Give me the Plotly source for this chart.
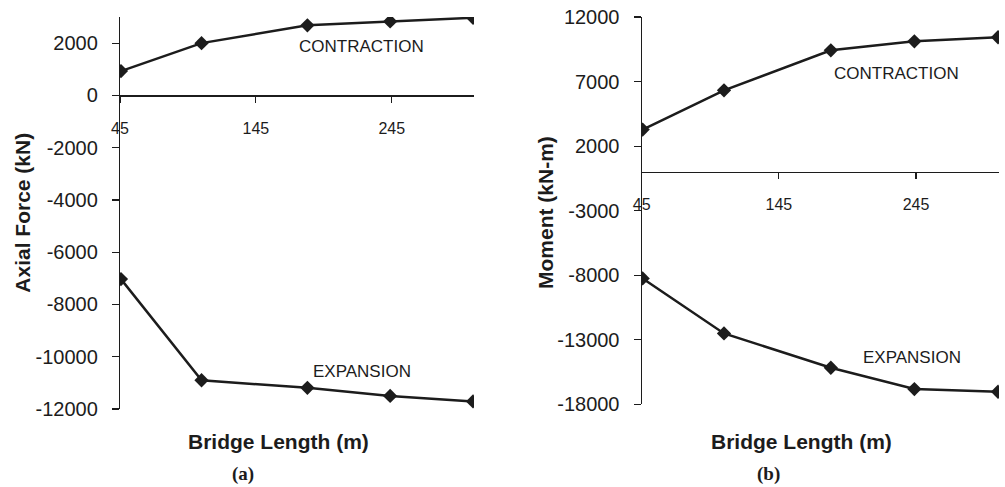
import plotly.graph_objects as go

# Data
bridge_length = [45.7, 105, 182.9, 243.8, 304.8]
axial_contraction = [930, 2000, 2680, 2830, 2970]
axial_expansion = [-7030, -10900, -11190, -11500, -11710]
moment_contraction = [3280, 6320, 9420, 10120, 10430]
moment_expansion = [-8250, -12510, -15170, -16820, -17030]

x_ticks = [45, 145, 245]
axial_ticks = [2000, 0, -2000, -4000, -6000, -8000, -10000, -12000]
moment_ticks = [12000, 7000, 2000, -3000, -8000, -13000, -18000]

FONT = "Liberation Sans, Arial, sans-serif"
INK = "#1c1c1c"

W, H = 1005, 487
L, R, T, B = 120, 6, 17, 78
PW, PH = W - L - R, H - T - B

def px(x):  # page pixel -> paper x
    return (x - L) / PW

def py(y):  # page pixel -> paper y
    return (H - B - y) / PH

fig = go.Figure()

line_style = dict(color=INK, width=2.5)
marker_style = dict(symbol="diamond", size=11, color=INK)

for ys, xa, ya in [(axial_contraction, "x", "y"), (axial_expansion, "x", "y"),
                   (moment_contraction, "x2", "y2"), (moment_expansion, "x2", "y2")]:
    fig.add_trace(go.Scatter(x=bridge_length, y=ys, mode="lines+markers",
                             line=line_style, marker=marker_style,
                             xaxis=xa, yaxis=ya, showlegend=False, hoverinfo="skip"))

b_bottom = py(404.3)

xcommon = dict(range=[45, 305.5], tickvals=x_ticks, ticktext=[str(v) for v in x_ticks],
               ticks="outside", ticklen=6,
               tickcolor=INK, tickwidth=1.2, showline=True, linecolor=INK, linewidth=1.2,
               showgrid=False, zeroline=False, anchor="free", automargin=False,
               tickfont=dict(family=FONT, size=16, color=INK), ticklabelstandoff=12,
               ticklabeloverflow="allow")
ycommon = dict(ticks="outside", ticklen=7, tickcolor=INK, tickwidth=1.2,
               showline=True, linecolor=INK, linewidth=1.2, showgrid=False,
               zeroline=False, tickfont=dict(family=FONT, size=20, color=INK),
               ticklabelstandoff=10, ticklabeloverflow="allow", automargin=False)

fig.update_layout(
    width=W, height=H,
    margin=dict(l=L, r=R, t=T, b=B, autoexpand=False),
    plot_bgcolor="white", paper_bgcolor="white",
    xaxis=dict(domain=[0, px(474)], position=0.8, **xcommon),
    yaxis=dict(domain=[0, 1], range=[-12000.5, 3000], tickvals=axial_ticks,
               ticktext=[str(v) for v in axial_ticks], anchor="x", **ycommon),
    xaxis2=dict(domain=[px(641.7), 1], position=b_bottom + 0.6 * (1 - b_bottom), **xcommon),
    yaxis2=dict(domain=[b_bottom, 1], range=[-18000.5, 12000.5], tickvals=moment_ticks,
                ticktext=[str(v) for v in moment_ticks], anchor="x2", **ycommon),
)

label_font = dict(family=FONT, size=17, color=INK)
title_font = dict(family=FONT, size=21, color=INK)
cap_font = dict(family="Liberation Serif, Times New Roman, serif", size=19, color=INK)

ann = [
    dict(text="CONTRACTION", x=223, y=1885, xref="x", yref="y", font=label_font),
    dict(text="EXPANSION", x=223, y=-10580, xref="x", yref="y", font=label_font),
    dict(text="CONTRACTION", x=231, y=7660, xref="x2", yref="y2", font=label_font),
    dict(text="EXPANSION", x=242, y=-14370, xref="x2", yref="y2", font=label_font),
    dict(text="<b>Axial Force (kN)</b>", x=px(21.7), y=py(213), xref="paper", yref="paper",
         textangle=-90, font=title_font),
    dict(text="<b>Moment (kN-m)</b>", x=px(545), y=py(213), xref="paper", yref="paper",
         textangle=-90, font=title_font),
    dict(text="<b>Bridge Length (m)</b>", x=px(278), y=py(441.7), xref="paper", yref="paper",
         font=title_font),
    dict(text="<b>Bridge Length (m)</b>", x=px(801), y=py(441.7), xref="paper", yref="paper",
         font=title_font),
    dict(text="<b>(a)</b>", x=px(243), y=py(474), xref="paper", yref="paper", font=cap_font),
    dict(text="<b>(b)</b>", x=px(768), y=py(474), xref="paper", yref="paper", font=cap_font),
]
for a in ann:
    a.update(showarrow=False, xanchor="center", yanchor="middle")
fig.update_layout(annotations=ann)

# Remove the default 8px page margin so the figure fills the window exactly.
fig.write_html("out.html",
               config={"displayModeBar": False, "staticPlot": True},
               post_script="document.body.style.margin='0';document.body.style.overflow='hidden';")
